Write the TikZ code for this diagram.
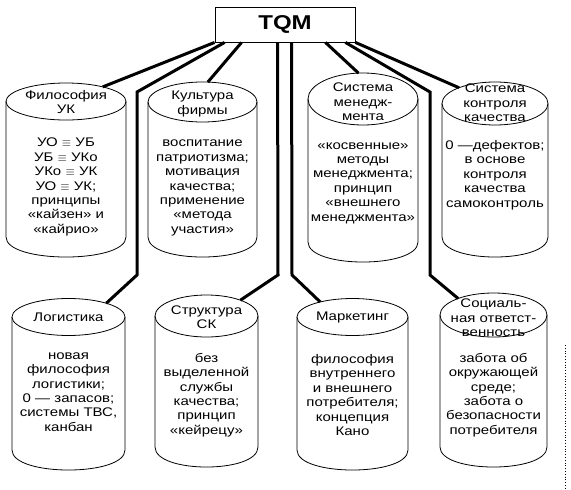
\documentclass[tikz,border=0pt]{standalone}
\usepackage{fontspec}
\setmainfont[FakeStretch=1.2]{Liberation Sans}
\usetikzlibrary{shapes.geometric}

\begin{document}
\begin{tikzpicture}[
    x=1pt, y=-1pt,
    every node/.style={font=\fontsize{12.5}{14.4}\selectfont},
    rootbox/.style={rectangle, draw, line width=0.9pt, minimum width=140pt, minimum height=35pt, inner sep=0pt, font=\fontsize{20}{24}\selectfont\bfseries},
    captop/.style={ellipse, draw, line width=0.8pt, inner sep=0pt, outer sep=0pt},
    cylside/.style={line width=0.8pt},
    head/.style={align=center, inner sep=0pt},
    body/.style={align=center, inner sep=0pt},
    link/.style={line width=3pt, line join=miter}
]
\useasboundingbox (0,0) rectangle (571,490);

% Root
\node[rootbox] (tqm) at (285,24.5) {TQM};

% Top row
\node[captop, minimum width=120pt, minimum height=37pt] (filtop) at (66,101.5) {};
\draw[cylside] (filtop.west) -- (6,237) .. controls (6,263.7) and (126,263.7) .. (126,237) -- (filtop.east);
\node[head] (filhd) at (66,102) {Философия\\УК};
\node[body] (filtx) at (66,187) {УО $\equiv$ УБ\\УБ $\equiv$ УКо\\УКо $\equiv$ УК\\УО $\equiv$ УК;\\принципы\\«кайзен» и\\«кайрио»};

\node[captop, minimum width=109pt, minimum height=40pt] (kulttop) at (202.5,102) {};
\draw[cylside] (kulttop.west) -- (148,237) .. controls (148,263.7) and (257,263.7) .. (257,237) -- (kulttop.east);
\node[head] (kulthd) at (202.5,104) {Культура\\фирмы};
\node[body] (kulttx) at (202.5,188) {воспитание\\патриотизма;\\мотивация\\качества;\\применение\\«метода\\участия»};

\node[captop, minimum width=110pt, minimum height=52pt] (systop) at (363,99) {};
\draw[cylside] (systop.west) -- (308,242) .. controls (308,268.7) and (418,268.7) .. (418,242) -- (systop.east);
\node[head] (syshd) at (363,102) {Система\\менедж-\\мента};
\node[body] (systx) at (363,183) {«косвенные»\\методы\\менеджмента;\\принцип\\«внешнего\\менеджмента»};

\node[captop, minimum width=106pt, minimum height=43pt] (ctrltop) at (495,103.5) {};
\draw[cylside] (ctrltop.west) -- (442,237) .. controls (442,263.7) and (548,263.7) .. (548,237) -- (ctrltop.east);
\node[head] (ctrlhd) at (495,103) {Система\\контроля\\качества};
\node[body] (ctrltx) at (495,175) {0 —дефектов;\\в основе\\контроля\\качества\\самоконтроль};

% Bottom row
\node[captop, minimum width=113pt, minimum height=37pt] (logtop) at (68.5,317) {};
\draw[cylside] (logtop.west) -- (12,450) .. controls (12,476.7) and (125,476.7) .. (125,450) -- (logtop.east);
\node[head] (loghd) at (68.5,317) {Логистика};
\node[body] (logtx) at (68.5,392) {новая\\философия\\логистики;\\0 — запасов;\\системы ТВС,\\канбан};

\node[captop, minimum width=103pt, minimum height=42pt] (strtop) at (206.5,316) {};
\draw[cylside] (strtop.west) -- (155,447) .. controls (155,473.7) and (258,473.7) .. (258,447) -- (strtop.east);
\node[head] (strhd) at (206.5,317) {Структура\\СК};
\node[body] (strtx) at (206.5,395) {без\\выделенной\\службы\\качества;\\принцип\\«кейрецу»};

\node[captop, minimum width=111pt, minimum height=37pt] (marktop) at (352.5,317) {};
\draw[cylside] (marktop.west) -- (297,450) .. controls (297,476.7) and (408,476.7) .. (408,450) -- (marktop.east);
\node[head] (markhd) at (352.5,317) {Маркетинг};
\node[body] (marktx) at (352.5,395) {философия\\внутреннего\\и внешнего\\потребителя;\\концепция\\Кано};

\node[captop, minimum width=107pt, minimum height=44pt] (soctop) at (493.5,315) {};
\draw[cylside] (soctop.west) -- (440,447) .. controls (440,473.7) and (547,473.7) .. (547,447) -- (soctop.east);
\node[head] (sochd) at (493.5,318) {Социаль-\\ная ответст-\\венность};
\node[body] (soctx) at (493.5,395) {забота об\\окружающей\\среде;\\забота о\\безопасности\\потребителя};

% Links
\draw[link] (tqm.south west) -- (filtop);
\draw[link] ([xshift=10pt]tqm.south west) -- (137,92) -- (137,275) -- (logtop.20);
\draw[link] ([xshift=27pt]tqm.south west) -- (kulttop.75);
\draw[link] ([xshift=63pt]tqm.south west) -- (278,275) -- (strtop.25);
\draw[link] ([xshift=77pt]tqm.south west) -- (292,275) -- (marktop.155);
\draw[link] ([xshift=-30pt]tqm.south east) -- (systop.100);
\draw[link] ([xshift=-10pt]tqm.south east) -- (430,92) -- (430,275) -- (soctop.155);
\draw[link] (tqm.south east) -- (ctrltop);

% Edge
\draw[dotted, line width=0.8pt] (565,345) -- (565,490);

\end{tikzpicture}
\end{document}
